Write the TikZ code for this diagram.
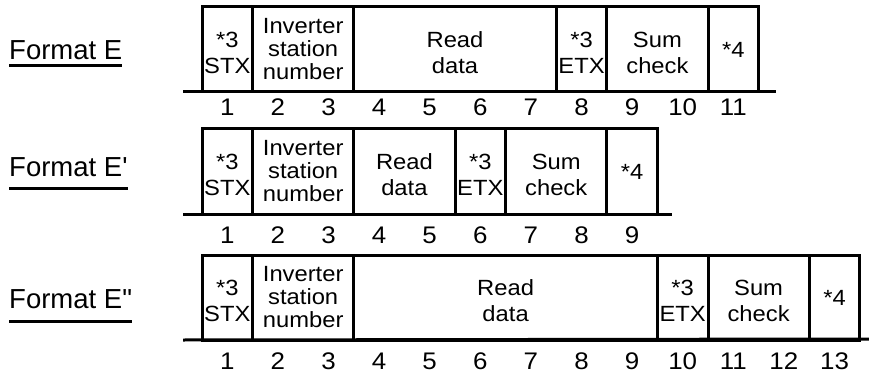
\documentclass[tikz,border=0pt]{standalone}
\usepackage{fontspec}
\setmainfont{Liberation Sans}
\newfontfamily\widefont[FakeStretch=1.08]{Liberation Sans}
\usepackage{tikz}
\usetikzlibrary{positioning}

% two-line field text, pushed a little lower like the original
\newcommand{\duo}[2]{\rule{0pt}{22pt}#1\\[3pt]#2}

\begin{document}
\begin{tikzpicture}[
    x=1pt, y=-1pt,
    node distance=0pt,
    % one field of the frame, #1 = number of characters
    field/.style={
        draw,
        rectangle,
        line width=3pt,
        minimum width=#1*50.6pt,
        minimum height=85pt,
        inner sep=0pt,
        outer sep=0pt,
        align=center,
        font=\widefont\fontsize{22}{23}\selectfont
    },
    num/.style={inner sep=0pt, font=\widefont\fontsize{24}{26}\selectfont},
    lab/.style={inner sep=0pt, font=\fontsize{27.5}{30}\selectfont},
    rule/.style={line width=3pt},
    uline/.style={line width=3pt}
]
\useasboundingbox (0,0) rectangle (869,374);

% =====================================================================
% FORMAT E
% =====================================================================
\node (lbE) [lab, anchor=base west] at (9,60) {Format E};
\draw [uline] ([yshift=-6pt]lbE.base west) -- ([yshift=-6pt]lbE.base east);

\node (E1) [field=1, anchor=north west] at (202,7) {\duo{*3}{STX}};
\node (E2) [field=2, right=of E1] {Inverter\\station\\number};
\node (E3) [field=4, right=of E2] {\duo{Read}{data}};
\node (E4) [field=1, right=of E3] {\duo{*3}{ETX}};
\node (E5) [field=2, right=of E4] {\duo{Sum}{check}};
\node (E6) [field=1, right=of E5] {*4};

\coordinate (Ea) at ([xshift=-19pt]E1.south west);
\coordinate (Eb) at ([xshift=17pt]E6.south east);
\draw [rule] (Ea) -- (Eb);

\foreach \n in {1,...,11}
    \node (Ed\n) [num] at ({202+(\n-0.5)*50.6},107.5) {\n};

% =====================================================================
% FORMAT E'
% =====================================================================
\node (lbF) [lab, anchor=base west] at (9,176) {Format E\textquotesingle};
\draw [uline] ([yshift=-12pt]lbF.base west) -- ([yshift=-12pt]lbF.base east);

\node (F1) [field=1, anchor=north west] at (202,129) {\duo{*3}{STX}};
\node (F2) [field=2, right=of F1] {Inverter\\station\\number};
\node (F3) [field=2, right=of F2] {\duo{Read}{data}};
\node (F4) [field=1, right=of F3] {\duo{*3}{ETX}};
\node (F5) [field=2, right=of F4] {\duo{Sum}{check}};
\node (F6) [field=1, right=of F5] {*4};

\coordinate (Fa) at ([xshift=-19pt]F1.south west);
\coordinate (Fb) at ([xshift=15pt]F6.south east);
\draw [rule] (Fa) -- (Fb);

\foreach \n in {1,...,9}
    \node (Fd\n) [num] at ({202+(\n-0.5)*50.6},235) {\n};

% =====================================================================
% FORMAT E''
% =====================================================================
\node (lbG) [lab, anchor=base west] at (9,308) {Format E\textquotedbl};
\draw [uline] ([yshift=-13pt]lbG.base west) -- ([yshift=-13pt]lbG.base east);

\node (G1) [field=1, anchor=north west] at (202,255) {\duo{*3}{STX}};
\node (G2) [field=2, right=of G1] {Inverter\\station\\number};
\node (G3) [field=6, right=of G2] {\duo{Read}{data}};
\node (G4) [field=1, right=of G3] {\duo{*3}{ETX}};
\node (G5) [field=2, right=of G4] {\duo{Sum}{check}};
\node (G6) [field=1, right=of G5] {*4};

\coordinate (Ga) at ([xshift=-19pt]G1.south west);
\coordinate (Gb) at (869,339);
\draw [rule] (Ga) -- (Gb);

\foreach \n in {1,...,13}
    \node (Gd\n) [num] at ({202+(\n-0.5)*50.6},361) {\n};

\end{tikzpicture}
\end{document}
